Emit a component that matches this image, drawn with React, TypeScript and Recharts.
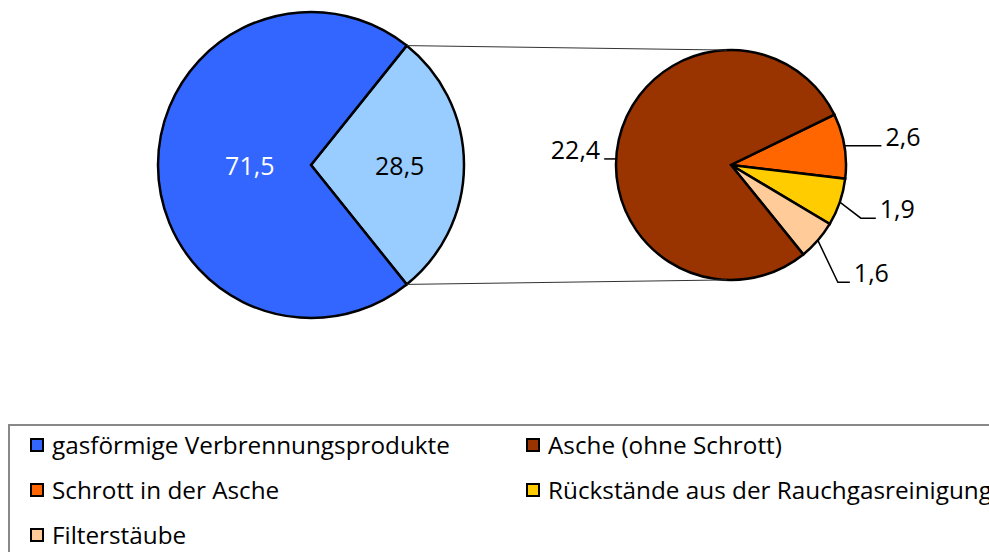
import React from 'react';
import { PieChart, Pie, Cell, Legend } from 'recharts';

// main pie (left)
const mainCategories = ['Rückstände gesamt', 'gasförmige Verbrennungsprodukte'];
const mainValues = [28.5, 71.5];

// detail pie (right) - breakdown of the 28,5
const detailCategories = ['Schrott in der Asche', 'Rückstände aus der Rauchgasreinigung', 'Filterstäube', 'Asche (ohne Schrott)'];
const detailValues = [2.6, 1.9, 1.6, 22.4];

const legendOrder = [
  'gasförmige Verbrennungsprodukte',
  'Asche (ohne Schrott)',
  'Schrott in der Asche',
  'Rückstände aus der Rauchgasreinigung',
  'Filterstäube',
];

const COLORS: Record<string, string> = {
  'Rückstände gesamt': '#99CCFF',
  'gasförmige Verbrennungsprodukte': '#3366FF',
  'Asche (ohne Schrott)': '#993300',
  'Schrott in der Asche': '#FF6600',
  'Rückstände aus der Rauchgasreinigung': '#FFCC00',
  'Filterstäube': '#FFCC99',
};

const mainData = mainCategories.map((name, i) => ({ name, value: mainValues[i] }));
const detailData = detailCategories.map((name, i) => ({ name, value: detailValues[i] }));

const W = 989;
const H = 552;
const FONT = '"Open Sans", sans-serif';

const LEFT = { cx: 311, cy: 165, r: 153 };
const RIGHT = { cx: 731, cy: 165, r: 115 };

const RAD = Math.PI / 180;
const polar = (cx: number, cy: number, r: number, a: number) => ({
  x: cx + r * Math.cos(-a * RAD),
  y: cy + r * Math.sin(-a * RAD),
});

const fmt = (v: number) => v.toFixed(1).replace('.', ',');

// the split slice sits centred on the right side
const mainStart = (mainValues[0] / mainValues.reduce((a, b) => a + b, 0)) * 180;
const detailStart = 26;

const renderMainLabel = (props: any) => {
  const { cx, cy, midAngle, outerRadius, startAngle, endAngle, index, value } = props;
  const k = index === 0 ? 0.58 : 0.4;
  const p = polar(cx, cy, outerRadius * k, midAngle);
  const text = (
    <text
      x={p.x}
      y={p.y}
      textAnchor="middle"
      dominantBaseline="central"
      fill={index === 0 ? '#000' : '#fff'}
      fontSize={25}
      fontFamily={FONT}
    >
      {fmt(value)}
    </text>
  );
  if (index !== 0) return text;
  // connector lines to the detail pie
  const a = polar(cx, cy, outerRadius, startAngle);
  const b = polar(cx, cy, outerRadius, endAngle);
  const ta = polar(RIGHT.cx, RIGHT.cy, RIGHT.r, 92);
  const tb = polar(RIGHT.cx, RIGHT.cy, RIGHT.r, 268);
  return (
    <g>
      <line x1={a.x} y1={a.y} x2={ta.x} y2={ta.y} stroke="#333" strokeWidth={1} />
      <line x1={b.x} y1={b.y} x2={tb.x} y2={tb.y} stroke="#333" strokeWidth={1} />
      {text}
    </g>
  );
};

// leader line layout per slice (angle shift, elbow and end offsets from the rim point)
const leaders = [
  { shift: 0, elbow: [0, 0], end: [37, 0], side: 1 },
  { shift: 0, elbow: [21, 16], end: [36, 16], side: 1 },
  { shift: 0, elbow: [20, 42], end: [32, 42], side: 1 },
  { shift: 9.5, elbow: [0, 0], end: [-12, 0], side: -1 },
];

const renderDetailLabel = (props: any) => {
  const { cx, cy, midAngle, outerRadius, index, value } = props;
  const l = leaders[index];
  const p = polar(cx, cy, outerRadius, midAngle + l.shift);
  const e = { x: p.x + l.elbow[0], y: p.y + l.elbow[1] };
  const f = { x: p.x + l.end[0], y: p.y + l.end[1] };
  return (
    <g>
      <polyline points={`${p.x},${p.y} ${e.x},${e.y} ${f.x},${f.y}`} fill="none" stroke="#000" strokeWidth={1.5} />
      <text
        x={f.x + l.side * 4}
        y={f.y}
        textAnchor={l.side > 0 ? 'start' : 'end'}
        fill="#000"
        fontSize={25}
        fontFamily={FONT}
      >
        {fmt(value)}
      </text>
    </g>
  );
};

const renderLegend = () => (
  <div style={{ position: 'relative', width: '100%', height: '100%' }}>
    {legendOrder.map((name, i) => (
      <div
        key={name}
        style={{
          position: 'absolute',
          left: (i % 2) * 496 + 20,
          top: Math.floor(i / 2) * 45 + 12,
          display: 'flex',
          alignItems: 'center',
          whiteSpace: 'nowrap',
        }}
      >
        <span
          style={{
            display: 'inline-block',
            width: 14,
            height: 14,
            boxSizing: 'border-box',
            border: '2px solid #000',
            background: COLORS[name],
            marginRight: 8,
          }}
        />
        <span style={{ fontFamily: FONT, fontSize: 24.3, color: '#000', lineHeight: '14px' }}>{name}</span>
      </div>
    ))}
  </div>
);

export default function App() {
  return (
    <div style={{ position: 'absolute', left: 0, top: 0, width: W, height: H, overflow: 'hidden', background: '#fff' }}>
      <PieChart width={W} height={H} margin={{ top: 0, right: 0, bottom: 0, left: 0 }}>
        <Pie
          data={mainData}
          dataKey="value"
          nameKey="name"
          cx={LEFT.cx}
          cy={LEFT.cy}
          outerRadius={LEFT.r}
          startAngle={mainStart}
          endAngle={mainStart - 360}
          stroke="#000"
          strokeWidth={2.5}
          label={renderMainLabel}
          labelLine={false}
          isAnimationActive={false}
        >
          {mainData.map((d) => (
            <Cell key={d.name} fill={COLORS[d.name]} />
          ))}
        </Pie>
        <Pie
          data={detailData}
          dataKey="value"
          nameKey="name"
          cx={RIGHT.cx}
          cy={RIGHT.cy}
          outerRadius={RIGHT.r}
          startAngle={detailStart}
          endAngle={detailStart - 360}
          stroke="#000"
          strokeWidth={2.5}
          label={renderDetailLabel}
          labelLine={false}
          isAnimationActive={false}
        >
          {detailData.map((d) => (
            <Cell key={d.name} fill={COLORS[d.name]} />
          ))}
        </Pie>
        <Legend
          content={renderLegend}
          wrapperStyle={{
            position: 'absolute',
            left: 8,
            top: 424,
            width: 1000,
            height: 160,
            border: '2px solid #888',
            boxSizing: 'border-box',
          }}
        />
      </PieChart>
    </div>
  );
}
